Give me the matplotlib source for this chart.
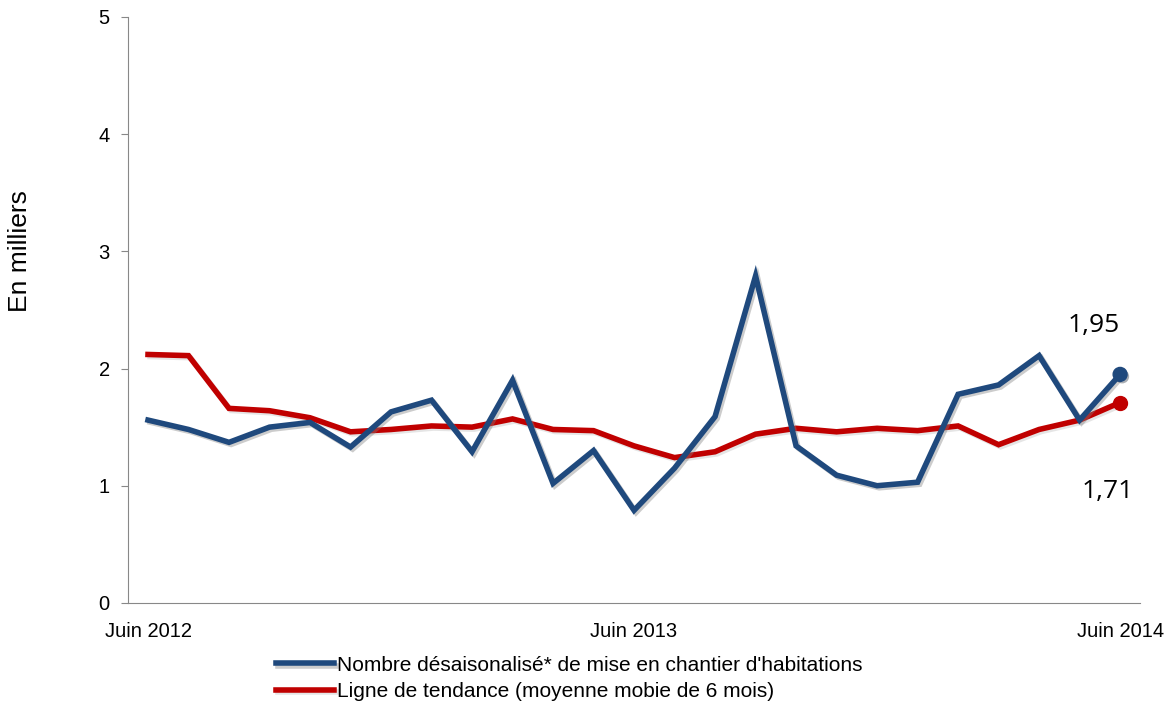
import matplotlib.pyplot as plt
import matplotlib.patheffects as pe
import numpy as np

# monthly data, Juin 2012 -> Juin 2014
mois = np.arange(25)
tick_pos = [0, 12, 24]
tick_labels = ["Juin 2012", "Juin 2013", "Juin 2014"]

mises_en_chantier = [1.56, 1.48, 1.37, 1.50, 1.54, 1.33, 1.63, 1.73, 1.29, 1.90,
                     1.02, 1.30, 0.79, 1.15, 1.59, 2.79, 1.34, 1.09, 1.00, 1.03,
                     1.78, 1.86, 2.11, 1.56, 1.95]
tendance = [2.12, 2.11, 1.66, 1.64, 1.58, 1.46, 1.48, 1.51, 1.50, 1.57,
            1.48, 1.47, 1.34, 1.24, 1.29, 1.44, 1.49, 1.46, 1.49, 1.47,
            1.51, 1.35, 1.48, 1.56, 1.71]

bleu = "#1F497D"
rouge = "#C00000"

plt.rcParams['font.family'] = ['Liberation Sans', 'DejaVu Sans']

fig = plt.figure(figsize=(11.72, 7.06), dpi=100)
ax = fig.add_axes([0.109, 0.146, 0.864, 0.830])

shadow_b = [pe.SimpleLineShadow(offset=(1.5, -1.5), shadow_color='gray', alpha=0.4), pe.Normal()]
shadow_r = [pe.SimpleLineShadow(offset=(1.5, -1.5), shadow_color='gray', alpha=0.2), pe.Normal()]

l1, = ax.plot(mois, mises_en_chantier, color=bleu, lw=4, solid_joinstyle='miter',
              path_effects=shadow_b, zorder=3,
              label="Nombre désaisonalisé* de mise en chantier d'habitations")
l2, = ax.plot(mois, tendance, color=rouge, lw=4, solid_joinstyle='miter',
              path_effects=shadow_r, zorder=2,
              label="Ligne de tendance (moyenne mobie de 6 mois)")
ax.plot(mois[-1], mises_en_chantier[-1], 'o', color=bleu, ms=10, zorder=4,
        path_effects=[pe.SimplePatchShadow(offset=(1.5, -1.5), alpha=0.35), pe.Normal()])
ax.plot(mois[-1], tendance[-1], 'o', color=rouge, ms=10, zorder=4)

ax.annotate(f"{mises_en_chantier[-1]:.2f}".replace('.', ','), (mois[-1], mises_en_chantier[-1]),
            xytext=(-19, 35), textcoords='offset points', fontsize=19, family='Open Sans',
            ha='center', va='center')
ax.annotate(f"{tendance[-1]:.2f}".replace('.', ','), (mois[-1], tendance[-1]),
            xytext=(-9, -64), textcoords='offset points', fontsize=19, family='Open Sans',
            ha='center', va='center')

ax.set_xlim(-0.5, 24.5)
ax.set_ylim(0, 5)
ax.set_yticks(range(6))
ax.set_xticks(tick_pos)
ax.set_xticklabels(tick_labels)
ax.tick_params(axis='x', length=0, labelsize=14.5, pad=14)
ax.tick_params(axis='y', length=5, color='#888888', labelsize=14.5, pad=8)
ax.set_ylabel("En milliers", fontsize=19)
ax.yaxis.set_label_coords(-0.095, 0.6)

for s in ['top', 'right']:
    ax.spines[s].set_visible(False)
for s in ['left', 'bottom']:
    ax.spines[s].set_color('#888888')

fig.legend(handles=[l1, l2], loc='upper left', bbox_to_anchor=(0.228, 0.083),
           frameon=False, fontsize=15, handlelength=2.8, handletextpad=0.15,
           labelspacing=0.35, borderaxespad=0)

fig.savefig("out.png", dpi=100)
